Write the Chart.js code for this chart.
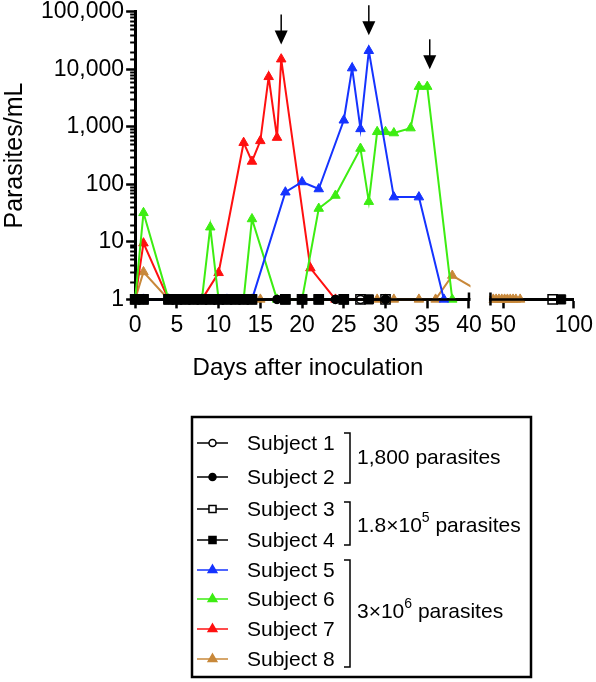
<!DOCTYPE html>
<html>
<head>
<meta charset="utf-8">
<script src="https://cdn.jsdelivr.net/npm/chart.js@4.4.1/dist/chart.umd.min.js"></script>
<style>
  html, body { margin: 0; padding: 0; background: #fff; }
  #wrap { position: relative; width: 596px; height: 682px; }
</style>
</head>
<body>
<div id="wrap"><canvas id="chart" width="596" height="682"></canvas></div>
<script>
// --- data (days after inoculation, parasites/mL; 1 = not detected) ---
const xTickVals = [0, 5, 10, 15, 20, 25, 30, 35, 40, 50, 100];

const s1Days = [0, 1, 4, 5, 6, 7, 8, 9, 10, 11, 12, 13, 14, 17, 24, 27, 30];
const s1Vals = [1, 1, 1, 1, 1, 1, 1, 1, 1, 1, 1, 1, 1, 1, 1, 1, 1];
const s2Days = [0, 1, 4, 5, 6, 7, 8, 9, 10, 11, 12, 13, 14, 17, 24, 30];
const s2Vals = [1, 1, 1, 1, 1, 1, 1, 1, 1, 1, 1, 1, 1, 1, 1, 1];
const s3Days = [0, 1, 4, 5, 6, 7, 8, 9, 10, 11, 12, 13, 14, 18, 20, 22, 25, 27, 30, 85];
const s3Vals = [1, 1, 1, 1, 1, 1, 1, 1, 1, 1, 1, 1, 1, 1, 1, 1, 1, 1, 1, 1];
const s4Days = [0, 1, 4, 5, 6, 7, 8, 9, 10, 11, 12, 13, 14, 18, 20, 22, 25, 28, 91];
const s4Vals = [1, 1, 1, 1, 1, 1, 1, 1, 1, 1, 1, 1, 1, 1, 1, 1, 1, 1, 1];
const s5Days = [0, 1, 4, 8, 11, 14, 18, 20, 22, 25, 26, 27, 28, 31, 34, 37];
const s5Vals = [1, 1, 1, 1, 1, 1, 73, 110, 83, 1300, 10500, 920, 21000, 60, 60, 1];
const s6Days = [0, 1, 4, 8, 9, 10, 13, 14, 17, 20, 22, 24, 27, 28, 29, 30, 31, 33, 34, 35, 38];
const s6Vals = [1, 32, 1, 1, 18, 1, 1, 25, 1, 1, 38, 64, 420, 50, 820, 820, 780, 950, 5000, 5000, 1];
const s7Days = [0, 1, 4, 8, 10, 13, 14, 15, 16, 17, 17.5, 21, 24];
const s7Vals = [1, 9.5, 1, 1, 2.9, 530, 250, 570, 7400, 650, 15000, 3.5, 1];
const s8Days = [0, 1, 4, 8, 15, 29, 30, 31, 34, 36, 38, 43, 45, 47, 49, 51, 53, 55, 57, 59, 62];
const s8Vals = [1, 3, 1, 1, 1, 1, 1, 1, 1, 1, 2.6, 1, 1, 1, 1, 1, 1, 1, 1, 1, 1];

// treatment arrows (day, value at arrow tip)
const arrowDays = [17.5, 28, 35.3];
const arrowTips = [27000, 39000, 10000];

const subjectNames = ['Subject 1', 'Subject 2', 'Subject 3', 'Subject 4',
                      'Subject 5', 'Subject 6', 'Subject 7', 'Subject 8'];
const groupLabels = [
  { text: '1,800 parasites' },
  { text: '1.8×10', sup: '5', rest: ' parasites' },
  { text: '3×10', sup: '6', rest: ' parasites' }
];

const FONT = "'Liberation Sans', Arial, Helvetica, sans-serif";
Chart.defaults.font.family = FONT;
Chart.defaults.color = '#000';

const pts = (days, vals) => days.map((d, i) => ({ x: d, y: vals[i] }));
const isDecade = v => Math.abs(Math.log10(v) - Math.round(Math.log10(v))) < 1e-9;

// x axis with a break between 40 and 41 days
class BrokenScale extends Chart.LinearScale {
  buildTicks() {
    return xTickVals.map(v => ({ value: v }));
  }
  getPixelForValue(value) {
    if (value === null || value === undefined || isNaN(value)) return NaN;
    const b = this.options.broken;
    let dec;
    if (value <= b.leftEnd) {
      dec = (value - this.min) / (b.leftEnd - this.min) * b.leftFrac;
    } else if (value < b.rightStart) {
      dec = b.leftFrac + (value - b.leftEnd) / (b.rightStart - b.leftEnd) * b.gapFrac;
    } else {
      dec = b.leftFrac + b.gapFrac + (value - b.rightStart) / (this.max - b.rightStart) * (1 - b.leftFrac - b.gapFrac);
    }
    return this.getPixelForDecimal(dec);
  }
}
BrokenScale.id = 'broken';
BrokenScale.defaults = {};
Chart.register(BrokenScale);

function mkSet(i, days, vals, color, style, radius, open) {
  return {
    label: subjectNames[i],
    data: pts(days, vals),
    borderColor: color,
    borderWidth: 2,
    pointStyle: style,
    pointRadius: radius,
    pointBorderWidth: open ? 1.5 : 1,
    pointBorderColor: color,
    pointBackgroundColor: open ? 'rgba(0,0,0,0)' : color,
    legendFill: open ? '#fff' : color,
    tension: 0,
    clip: false
  };
}

const BLUE = '#1533ff', GREEN = '#3ded12', RED = '#ff1010', BROWN = '#c8883a';

const datasets = [
  mkSet(0, s1Days, s1Vals, '#000', 'circle', 4, true),
  mkSet(1, s2Days, s2Vals, '#000', 'circle', 4, false),
  mkSet(2, s3Days, s3Vals, '#000', 'rect', 6.5, true),
  mkSet(3, s4Days, s4Vals, '#000', 'rect', 6.5, false),
  mkSet(4, s5Days, s5Vals, BLUE, 'triangle', 5.5, false),
  mkSet(5, s6Days, s6Vals, GREEN, 'triangle', 5.5, false),
  mkSet(6, s7Days, s7Vals, RED, 'triangle', 5.5, false),
  mkSet(7, s8Days, s8Vals, BROWN, 'triangle', 5.5, false)
];

const brokenAxis = {
  id: 'brokenAxis',
  afterDatasetsDraw(chart) {
    const x = chart.scales.x, a = chart.chartArea, ctx = chart.ctx;
    const xa = x.getPixelForValue(40), xb = x.getPixelForValue(41);
    const yb = a.bottom;
    ctx.save();
    ctx.fillStyle = '#fff';
    ctx.fillRect(xa + 1.5, a.top - 10, xb - xa - 3, yb - a.top + 13);
    ctx.strokeStyle = '#000';
    ctx.lineWidth = 2.5;
    ctx.beginPath();
    ctx.moveTo(xa, yb - 7); ctx.lineTo(xa, yb);
    ctx.moveTo(xb, yb - 7); ctx.lineTo(xb, yb + 6);
    ctx.stroke();

    // minor log ticks
    const y = chart.scales.y;
    ctx.lineWidth = 2;
    ctx.beginPath();
    y.ticks.forEach(t => {
      if (isDecade(t.value)) return;
      const py = Math.round(y.getPixelForValue(t.value)) + 0.5;
      ctx.moveTo(a.left - 5, py); ctx.lineTo(a.left, py);
    });
    ctx.stroke();

    // treatment arrows
    ctx.fillStyle = '#000';
    ctx.lineWidth = 1.5;
    arrowDays.forEach((d, i) => {
      const px = x.getPixelForValue(d), py = y.getPixelForValue(arrowTips[i]);
      ctx.beginPath();
      ctx.moveTo(px, py - 30); ctx.lineTo(px, py - 12);
      ctx.stroke();
      ctx.beginPath();
      ctx.moveTo(px, py); ctx.lineTo(px - 6.5, py - 14); ctx.lineTo(px + 6.5, py - 14);
      ctx.closePath();
      ctx.fill();
    });
    ctx.restore();
  }
};

const legendBox = {
  id: 'legendBox',
  afterDraw(chart) {
    const ctx = chart.ctx;
    ctx.save();
    ctx.fillStyle = '#000';
    ctx.font = '24px ' + FONT;
    ctx.textAlign = 'center';
    ctx.textBaseline = 'middle';
    ctx.fillText('Days after inoculation', 308, 368);

    ctx.strokeStyle = '#000';
    ctx.lineWidth = 2.5;
    ctx.strokeRect(192, 417, 339, 260);

    const rowY = [443, 477, 509, 540, 570, 599, 629, 659];
    chart.data.datasets.forEach((ds, i) => {
      const y = rowY[i];
      ctx.strokeStyle = ds.borderColor;
      ctx.lineWidth = 1.5;
      ctx.beginPath(); ctx.moveTo(197, y); ctx.lineTo(228, y); ctx.stroke();
      ctx.fillStyle = ds.legendFill;
      const r = ds.pointStyle === 'circle' ? 3.5 : 5;
      Chart.helpers.drawPoint(ctx, { pointStyle: ds.pointStyle, radius: r, rotation: 0, borderWidth: 1.3 }, 212.5, y);
      ctx.fillStyle = '#000';
      ctx.font = '21px ' + FONT;
      ctx.textAlign = 'left';
      ctx.fillText(ds.label, 247, y + 1);
    });

    // group brackets
    const brackets = [[433, 483, 458], [502, 545, 526], [560, 667, 612]];
    ctx.strokeStyle = '#000';
    ctx.lineWidth = 1.5;
    brackets.forEach(([y1, y2, ly], i) => {
      ctx.beginPath();
      ctx.moveTo(344, y1); ctx.lineTo(350, y1); ctx.lineTo(350, y2); ctx.lineTo(344, y2);
      ctx.stroke();
      const g = groupLabels[i];
      let xx = 357;
      ctx.font = '21px ' + FONT;
      ctx.fillText(g.text, xx, ly);
      if (g.sup) {
        xx += ctx.measureText(g.text).width;
        ctx.font = '14px ' + FONT;
        ctx.fillText(g.sup, xx, ly - 8);
        xx += ctx.measureText(g.sup).width;
        ctx.font = '21px ' + FONT;
        ctx.fillText(g.rest, xx, ly);
      }
    });
    ctx.restore();
  }
};

new Chart(document.getElementById('chart'), {
  type: 'line',
  data: { datasets },
  plugins: [brokenAxis, legendBox],
  options: {
    responsive: false,
    animation: false,
    events: [],
    layout: { padding: { left: 0, right: 19, top: 10, bottom: 340 } },
    plugins: { legend: { display: false }, tooltip: { enabled: false } },
    scales: {
      x: {
        type: 'broken', min: 0, max: 100,
        broken: { leftEnd: 40, rightStart: 41, leftFrac: 0.761, gapFrac: 0.049 },
        border: { display: true, width: 3, color: '#000' },
        grid: { drawOnChartArea: false, drawTicks: true, tickLength: 9, tickWidth: 2.5, tickColor: '#000' },
        ticks: { autoSkip: false, maxRotation: 0, padding: 3, color: '#000', font: { size: 23 },
                 callback: v => String(v) }
      },
      y: {
        type: 'logarithmic', min: 1, max: 100000,
        border: { display: true, width: 3, color: '#000' },
        grid: { drawOnChartArea: false, drawTicks: true, tickLength: 9, tickWidth: 2.5,
                tickColor: c => (c.tick && isDecade(c.tick.value)) ? '#000' : 'rgba(0,0,0,0)' },
        ticks: { autoSkip: false, padding: 2, color: '#000', font: { size: 23, lineHeight: 0.85 },
                 callback: v => isDecade(v) ? Number(v).toLocaleString('en-US') : '' },
        title: { display: true, text: 'Parasites/mL', color: '#000', font: { size: 25 },
                 padding: { top: 0, bottom: 9 } }
      }
    }
  }
});
</script>
</body>
</html>
